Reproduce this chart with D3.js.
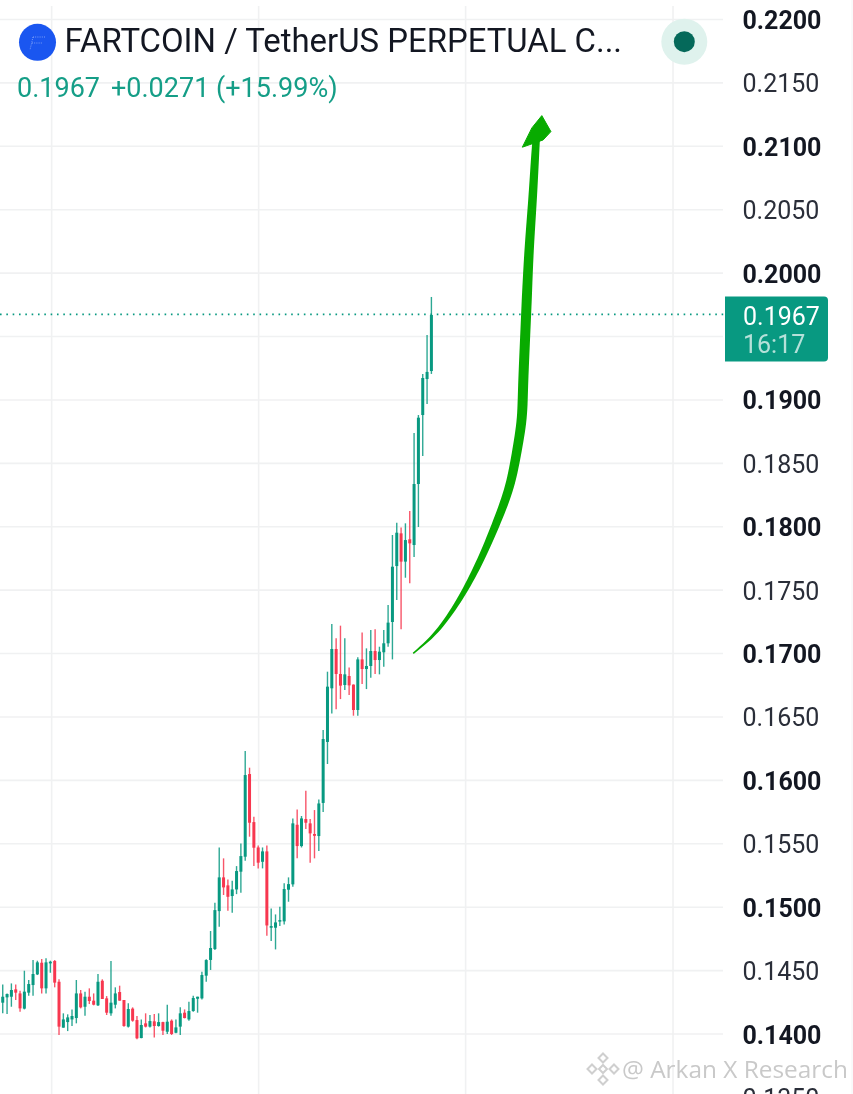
<!DOCTYPE html>
<html><head><meta charset="utf-8">
<script src="https://cdnjs.cloudflare.com/ajax/libs/d3/7.8.5/d3.min.js"></script>
<style>html,body{margin:0;padding:0;background:#fff;overflow:hidden}svg{display:block;filter:blur(0.3px)}text{font-family:Roboto,sans-serif}</style>
</head><body><svg id="c" width="853" height="1094"></svg>
<script>
const title = "FARTCOIN / TetherUS PERPETUAL C...";
const lastPrice = 0.1967;
const legendValues = ["0.1967", "+0.0271", "(+15.99%)"];
const countdown = "16:17";
const watermark = "@ Arkan X Research";
const tickValues = [0.135,0.14,0.145,0.15,0.155,0.16,0.165,0.17,0.175,0.18,0.185,0.19,0.195,0.2,0.205,0.21,0.215,0.22];
const hiddenTicks = [0.195];
const boldTicks = [0.14,0.15,0.16,0.17,0.18,0.19,0.2,0.21,0.22];
const timeGrid = [12.3,60.1,107.9,155.8];
const highs = [0.14326,0.14391,0.14320,0.14399,0.14391,0.14342,0.14499,0.14426,0.14583,0.14578,0.14591,0.14597,0.14578,0.14583,0.14431,0.14163,0.14155,0.14194,0.14426,0.14347,0.14334,0.14360,0.14320,0.14473,0.14431,0.14299,0.14576,0.14368,0.14381,0.14268,0.14242,0.14210,0.14142,0.14115,0.14163,0.14150,0.14157,0.14163,0.14097,0.14231,0.14115,0.14115,0.14210,0.14194,0.14255,0.14302,0.14294,0.14491,0.14589,0.14812,0.15035,0.15471,0.15385,0.15219,0.15209,0.15324,0.15503,0.16231,0.16100,0.15713,0.15487,0.15471,0.15487,0.14990,0.14943,0.15003,0.15188,0.15235,0.15700,0.15771,0.15719,0.15918,0.15695,0.15766,0.15850,0.16397,0.16857,0.17233,0.17120,0.17220,0.17120,0.16891,0.16757,0.16970,0.17167,0.17041,0.17186,0.17191,0.17054,0.17186,0.17383,0.17935,0.18032,0.17995,0.18027,0.18124,0.18739,0.18881,0.19205,0.19512,0.19812];
const opens = [0.14307,0.14247,0.14289,0.14294,0.14352,0.14320,0.14200,0.14326,0.14386,0.14470,0.14562,0.14360,0.14557,0.14576,0.14412,0.14050,0.14094,0.14115,0.14126,0.14320,0.14215,0.14294,0.14263,0.14226,0.14420,0.14281,0.14163,0.14231,0.14331,0.14268,0.14058,0.14200,0.14110,0.13968,0.14084,0.14058,0.14100,0.14063,0.14094,0.14018,0.14105,0.14010,0.14058,0.14168,0.14115,0.14181,0.14278,0.14281,0.14460,0.14584,0.14670,0.14969,0.15235,0.15172,0.15088,0.15140,0.15280,0.15398,0.16050,0.15671,0.15471,0.15358,0.15440,0.14838,0.14838,0.14888,0.14888,0.15138,0.15180,0.15650,0.15482,0.15695,0.15661,0.15577,0.15561,0.15822,0.16303,0.16726,0.17036,0.16839,0.16752,0.16823,0.16755,0.16555,0.16954,0.16878,0.16902,0.17020,0.16949,0.17010,0.17081,0.17249,0.17690,0.17948,0.17725,0.17901,0.17856,0.18337,0.18881,0.19165,0.19228];
const closes = [0.14247,0.14294,0.14315,0.14347,0.14326,0.14202,0.14334,0.14394,0.14473,0.14565,0.14360,0.14565,0.14570,0.14405,0.14058,0.14115,0.14131,0.14142,0.14320,0.14210,0.14294,0.14260,0.14231,0.14412,0.14276,0.14168,0.14247,0.14320,0.14263,0.14063,0.14197,0.14105,0.13966,0.14071,0.14058,0.14102,0.14063,0.14094,0.14026,0.14097,0.14000,0.14052,0.14163,0.14126,0.14181,0.14284,0.14294,0.14465,0.14583,0.14678,0.14977,0.15235,0.15156,0.15082,0.15140,0.15285,0.15403,0.16042,0.15666,0.15469,0.15351,0.15440,0.14856,0.14851,0.14880,0.14898,0.15143,0.15182,0.15661,0.15482,0.15700,0.15666,0.15582,0.15563,0.15818,0.16326,0.16739,0.17036,0.16839,0.16747,0.16836,0.16749,0.16555,0.16954,0.16878,0.16902,0.17020,0.16949,0.17015,0.17081,0.17244,0.17685,0.17953,0.17725,0.17895,0.17869,0.18337,0.18860,0.19173,0.19221,0.19670];
const lows = [0.14228,0.14163,0.14157,0.14215,0.14268,0.14176,0.14194,0.14302,0.14302,0.14465,0.14320,0.14320,0.14483,0.14368,0.13992,0.14050,0.14023,0.14063,0.14084,0.14202,0.14144,0.14236,0.14226,0.14221,0.14276,0.14150,0.14144,0.14202,0.14263,0.14058,0.14052,0.14097,0.13958,0.13966,0.14052,0.14052,0.13973,0.14058,0.13992,0.14000,0.13992,0.14005,0.13992,0.14123,0.14105,0.14176,0.14168,0.14273,0.14412,0.14505,0.14662,0.14846,0.15096,0.14972,0.14956,0.15103,0.15114,0.15366,0.15556,0.15324,0.15306,0.15306,0.14775,0.14733,0.14667,0.14851,0.14864,0.15043,0.15161,0.15385,0.15471,0.15616,0.15351,0.15385,0.15443,0.15751,0.16129,0.16528,0.16560,0.16641,0.16712,0.16673,0.16510,0.16510,0.16760,0.16720,0.16810,0.16839,0.16836,0.16896,0.17054,0.16954,0.17422,0.17191,0.17598,0.17554,0.17762,0.17998,0.18558,0.18968,0.19205];
const arrowIdx = [95.8,100.4,104.3,108.1,111.6,114.8,118.0,119.3,120.2,120.9,121.1,121.2,121.9,122.5,123.4,124.1,124.5];
const arrowPrice = [0.17002,0.17133,0.17304,0.17515,0.17751,0.18008,0.18290,0.18508,0.18684,0.18842,0.19000,0.19157,0.19686,0.20183,0.20577,0.21026,0.21168];
const arrowHeadIdx = [125.5,127.6,125.8,121.0,123.2];
const arrowHeadPrice = [0.21242,0.21116,0.21050,0.20993,0.21145];

const GREEN="#089981", RED="#f7374f", ARROW="#08ab00", GRID="#f0f1f2";
const svg=d3.select("#c");
const W=853,H=1094,plotR=723;
const x=d3.scaleLinear().domain([0,100]).range([-1.6,431.4]);
const y=d3.scaleLinear().domain([0.14,0.22]).range([1034,19.5]);

// grid
const g=svg.append("g");
g.selectAll("line.h").data(tickValues).join("line").attr("class","h")
 .attr("x1",0).attr("x2",plotR).attr("y1",d=>y(d)).attr("y2",d=>y(d))
 .attr("stroke",GRID).attr("stroke-width",1.6);
g.selectAll("line.v").data(timeGrid).join("line").attr("class","v")
 .attr("x1",d=>x(d)).attr("x2",d=>x(d)).attr("y1",6).attr("y2",H)
 .attr("stroke",GRID).attr("stroke-width",1.6);
svg.append("line").attr("x1",852).attr("x2",852).attr("y1",0).attr("y2",H).attr("stroke","#f4f4f5").attr("stroke-width",1);

// last price line
svg.append("line").attr("x1",0).attr("x2",725).attr("y1",y(lastPrice)-0.6).attr("y2",y(lastPrice)-0.6)
 .attr("stroke",GREEN).attr("stroke-width",1.7).attr("stroke-dasharray","1.6 4.73");

// candles
const idx=d3.range(highs.length);
const cg=svg.append("g");
cg.selectAll("line.w").data(idx).join("line").attr("class","w")
 .attr("x1",i=>x(i)).attr("x2",i=>x(i)).attr("y1",i=>y(highs[i])).attr("y2",i=>y(lows[i]))
 .attr("stroke",i=>closes[i]>=opens[i]?GREEN:RED).attr("stroke-width",1.4).attr("stroke-opacity",.85);
cg.selectAll("rect").data(idx).join("rect")
 .attr("x",i=>x(i)-1.5).attr("width",3)
 .attr("y",i=>y(Math.max(opens[i],closes[i])))
 .attr("height",i=>Math.max(1.5,Math.abs(y(opens[i])-y(closes[i]))))
 .attr("fill",i=>closes[i]>=opens[i]?GREEN:RED);

// hand-drawn arrow: a smooth centre line sampled and widened
const arrowWidth=[1.5,3.5,5,6.5,7.5,8.5,9.2,9.6,10,10,10,10,9.5,9,8.5,8,7];
const centre=arrowIdx.map((a,i)=>[x(a),y(arrowPrice[i])]);
const guide=svg.append("path").attr("fill","none").attr("d",d3.line().curve(d3.curveBasis)(centre));
const node=guide.node(),len=node.getTotalLength();
const widthAt=d3.scaleLinear().domain(d3.range(arrowWidth.length).map(i=>i/(arrowWidth.length-1))).range(arrowWidth);
const left=[],right=[];
d3.range(0,1.0001,1/120).forEach(t=>{
  const p=node.getPointAtLength(t*len),a=node.getPointAtLength(Math.max(0,t*len-1)),b=node.getPointAtLength(Math.min(len,t*len+1));
  const dx=b.x-a.x,dy=b.y-a.y,l=Math.hypot(dx,dy),w=widthAt(t)/2;
  left.push([p.x-dy/l*w,p.y+dx/l*w]);
  right.push([p.x+dy/l*w,p.y-dx/l*w]);
});
guide.remove();
svg.append("path").attr("d",d3.line()(left.concat(right.reverse()))+"Z").attr("fill",ARROW);
svg.append("path").attr("d",d3.line()(arrowHeadIdx.map((a,i)=>[x(a),y(arrowHeadPrice[i])]))+"Z").attr("fill",ARROW).attr("stroke",ARROW).attr("stroke-width",1).attr("stroke-linejoin","round");

// axis
const axis=d3.axisRight(y).tickValues(tickValues.filter(t=>!hiddenTicks.includes(t))).tickSize(0).tickPadding(0).tickFormat(d=>d.toFixed(4));
const ag=svg.append("g").attr("transform","translate(742.5,0)").call(axis);
ag.select(".domain").remove();
ag.selectAll("text").attr("font-size",25).attr("fill",d=>boldTicks.some(b=>Math.abs(b-d)<1e-6)?"#131722":"#2a2e39")
 .attr("font-weight",d=>boldTicks.some(b=>Math.abs(b-d)<1e-6)?700:400).attr("dy","0.36em").style("font-family","Roboto,sans-serif");

// price tag
const ty=y(lastPrice);
const tag=d3.path();tag.moveTo(725,296.5);tag.lineTo(824,296.5);tag.arcTo(828,296.5,828,300.5,4);tag.lineTo(828,357.5);tag.arcTo(828,361.5,824,361.5,4);tag.lineTo(725,361.5);tag.closePath();
svg.append("path").attr("d",tag.toString()).attr("fill",GREEN);
svg.append("text").attr("x",743).attr("y",ty+1).attr("dy","0.36em").attr("font-size",25).attr("fill","#fff").text(lastPrice.toFixed(4));
svg.append("text").attr("x",743).attr("y",ty+29.5).attr("dy","0.36em").attr("font-size",25).attr("fill","#fff").attr("fill-opacity",.7).text(countdown);

// header
svg.append("circle").attr("cx",37.5).attr("cy",42.3).attr("r",18.5).attr("fill","#1a56f0");
svg.append("path").attr("d","M33 37H46M33 37L30 50M32 43H43").attr("fill","none").attr("stroke","#fff").attr("stroke-opacity",.55).attr("stroke-width",.8).attr("stroke-dasharray","1 1.2");
svg.append("text").attr("x",64.5).attr("y",52).attr("font-size",32.9).attr("fill","#131722").text(title);
const lx=[17,111,216];
legendValues.forEach((t,i)=>svg.append("text").attr("x",lx[i]).attr("y",97).attr("font-size",27).attr("fill",GREEN).attr("fill-opacity",.95).text(t));
svg.append("circle").attr("cx",684.3).attr("cy",41.7).attr("r",23).attr("fill","#dff2ed");
svg.append("circle").attr("cx",684.3).attr("cy",41.7).attr("r",10.5).attr("fill","#05695a");

// watermark
const wm=svg.append("g").attr("fill","none").attr("stroke","#cfcfcf").attr("stroke-width",2);
[[603,1058],[592,1069],[614,1069],[603,1080]].forEach(c=>wm.append("path").attr("d",`M${c[0]} ${c[1]-4.5}L${c[0]+4.5} ${c[1]}L${c[0]} ${c[1]+4.5}L${c[0]-4.5} ${c[1]}Z`));
wm.append("path").attr("d","M603 1065L607 1069L603 1073L599 1069Z");
svg.append("text").attr("x",622).attr("y",1078).attr("font-size",24.4).attr("fill","#c9c9c9").style("font-family","'Open Sans',sans-serif").text(watermark);
</script></body></html>
